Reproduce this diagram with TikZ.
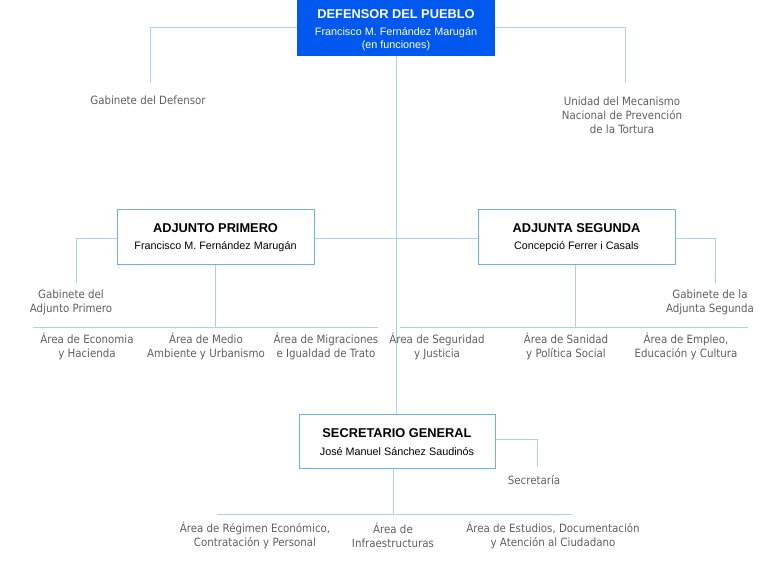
\documentclass[tikz,border=0pt]{standalone}
\usepackage{fontspec}
\setmainfont{DejaVu Sans Condensed}
\newfontfamily\boxfont{Liberation Sans}
\begin{document}
\begin{tikzpicture}[x=1pt,y=-1pt,
  ln/.style={draw=lnc,line width=0.8pt},
  bx/.style={draw=bxc,line width=1pt,fill=white},
  lbl/.style={text=txc,font=\fontsize{11.4}{14}\selectfont,align=center,inner sep=0pt},
  ttl/.style={font=\boxfont\bfseries\fontsize{12.8}{14}\selectfont,inner sep=0pt},
  sub/.style={font=\boxfont\fontsize{10.8}{13}\selectfont,inner sep=0pt,align=center}]
\definecolor{lnc}{RGB}{170,210,235}
\definecolor{bxc}{RGB}{110,175,230}
\definecolor{txc}{RGB}{95,95,95}
\definecolor{topc}{RGB}{0,88,238}
\useasboundingbox (0,0) rectangle (780,564);
% connectors
\draw[ln] (396,56) -- (396,414);
\draw[ln] (297,27) -| (150,83);
\draw[ln] (495,27) -| (625,83);
\draw[ln] (314,238) -- (478,238);
\draw[ln] (117,238) -| (76,283);
\draw[ln] (215,265) -- (215,327);
\draw[ln] (33,327) -- (378,327);
\draw[ln] (675,238) -| (715,283);
\draw[ln] (575,265) -- (575,327);
\draw[ln] (400,327) -- (748,327);
\draw[ln] (495,439) -| (537,467);
\draw[ln] (393,468) -- (393,514);
\draw[ln] (217,514) -- (572,514);
% boxes
\fill[topc] (297,0) rectangle (495,56);
\node[ttl,text=white] (dp) at (396,14) {DEFENSOR DEL PUEBLO};
\node[sub,text=white] (dps) at (396,39) {Francisco M. Fernández Marugán\\(en funciones)};
\draw[bx] (117,210) rectangle (314,265);
\node[ttl] (ap) at (215.5,228) {ADJUNTO PRIMERO};
\node[sub] (aps) at (215.5,247) {Francisco M. Fernández Marugán};
\draw[bx] (478,210) rectangle (675,265);
\node[ttl] (as) at (576.5,228) {ADJUNTA SEGUNDA};
\node[sub] (ass) at (576.5,247) {Concepció Ferrer i Casals};
\draw[bx] (299,414) rectangle (495,468);
\node[ttl] (sg) at (397,433) {SECRETARIO GENERAL};
\node[sub] (sgs) at (397,452) {José Manuel Sánchez Saudinós};
% labels
\node[lbl] (gd) at (148,100) {Gabinete del Defensor};
\node[lbl] (um) at (622,115) {Unidad del Mecanismo\\Nacional de Prevención\\de la Tortura};
\node[lbl] (ga) at (71,302) {Gabinete del\\Adjunto Primero};
\node[lbl] (gs) at (710,302) {Gabinete de la\\Adjunta Segunda};
\node[lbl] (a1) at (87,346) {Área de Economia\\y Hacienda};
\node[lbl] (a2) at (206,346) {Área de Medio\\Ambiente y Urbanismo};
\node[lbl] (a3) at (326,346) {Área de Migraciones\\e Igualdad de Trato};
\node[lbl] (a4) at (437,346) {Área de Seguridad\\y Justicia};
\node[lbl] (a5) at (566,346) {Área de Sanidad\\y Política Social};
\node[lbl] (a6) at (686,346) {Área de Empleo,\\Educación y Cultura};
\node[lbl] (se) at (534,480) {Secretaría};
\node[lbl] (b1) at (255,535) {Área de Régimen Económico,\\Contratación y Personal};
\node[lbl] (b2) at (393,535) {Área de\\Infraestructuras};
\node[lbl] (b3) at (553,535) {Área de Estudios, Documentación\\y Atención al Ciudadano};
\end{tikzpicture}
\end{document}
